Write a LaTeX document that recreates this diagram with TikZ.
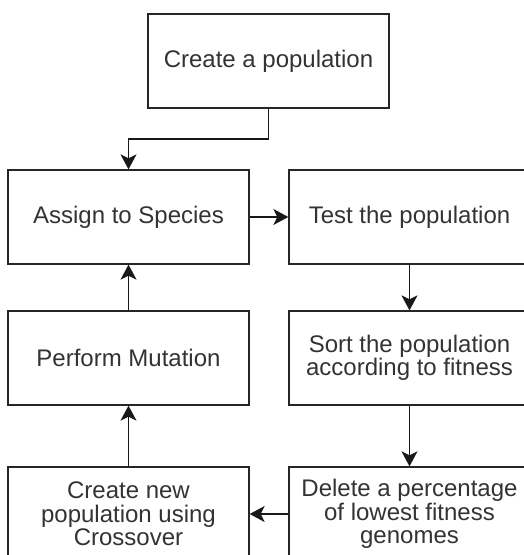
\documentclass[tikz,border=0pt]{standalone}
\usepackage{fontspec}
\setmainfont{Liberation Sans}
\usetikzlibrary{arrows.meta}
\begin{document}
\begin{tikzpicture}[x=1pt,y=-1pt,
  box/.style={draw=black!85, line width=1.3pt, minimum width=241pt, minimum height=94pt,
    inner sep=0pt, align=center, text=black!80,
    font=\fontsize{24}{23.3}\selectfont},
  arr/.style={draw=black!90, line width=1.3pt, -{Stealth[length=15pt,width=16pt,inset=4pt]}}]
\clip (0,0) rectangle (524,555);
\useasboundingbox (0,0) rectangle (524,555);
\node[box] (top) at (268.5,61) {Create a population};
\node[box] (assign) at (128.5,217) {Assign to Species};
\node[box] (test) at (409.5,217) {Test the population};
\node[box] (mut) at (128.5,358) {Perform Mutation};
\node[box] (sort) at (409.5,358) {Sort the population\\according to fitness};
\node[box] (cross) at (128.5,514) {Create new\\population using\\Crossover};
\node[box] (del) at (409.5,514) {Delete a percentage\\of lowest fitness\\genomes};
\coordinate (bend) at (128.5,139);
\draw[arr] (top.south) |- (bend) -- (assign.north);
\draw[arr] (assign.east) -- (test.west);
\draw[arr] (test.south) -- (sort.north);
\draw[arr] (sort.south) -- (del.north);
\draw[arr] (del.west) -- (cross.east);
\draw[arr] (cross.north) -- (mut.south);
\draw[arr] (mut.north) -- (assign.south);
\end{tikzpicture}
\end{document}
